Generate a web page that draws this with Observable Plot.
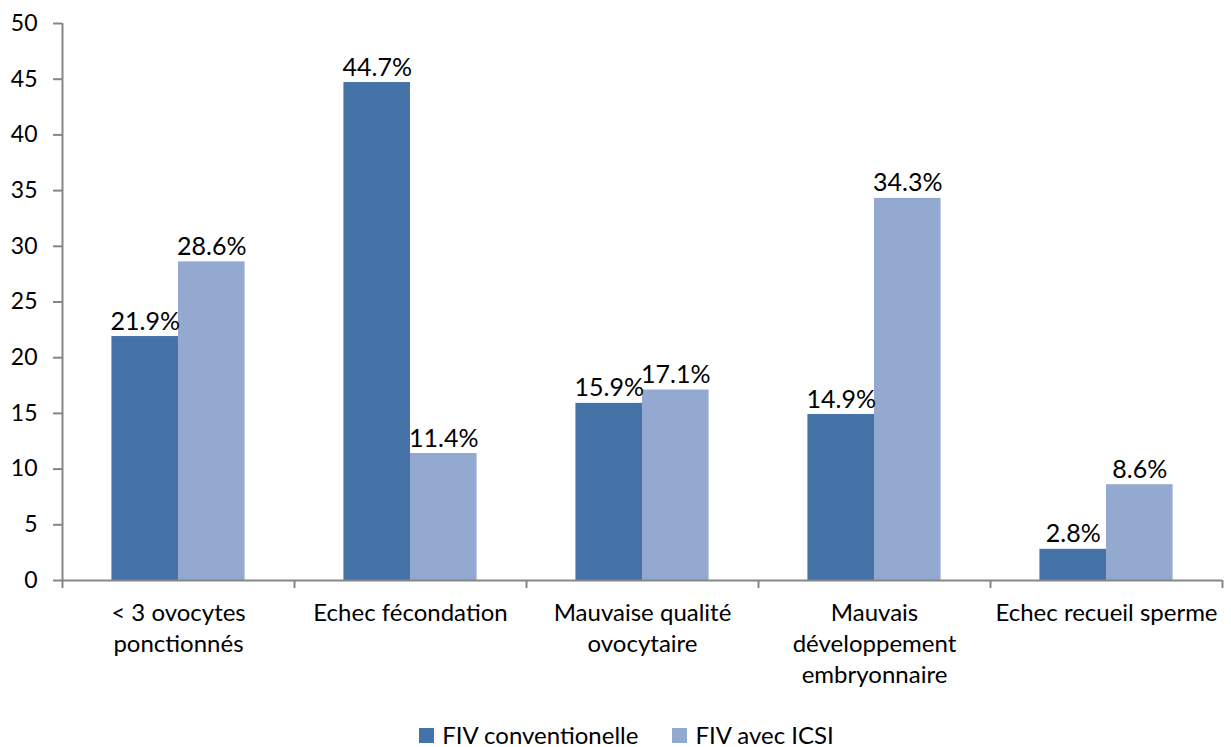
<!DOCTYPE html>
<html>
<head>
<meta charset="utf-8">
<script src="https://cdn.jsdelivr.net/npm/d3@7"></script>
<script src="https://cdn.jsdelivr.net/npm/@observablehq/plot@0.6"></script>
<style>
  html, body { margin: 0; padding: 0; background: #fff; }
  body { position: relative; width: 1231px; height: 747px; overflow: hidden; }
  #chart { width: 1231px; }
  .legend { position: absolute; left: 0; top: 724px; width: 1231px; display: flex; justify-content: center; align-items: center; gap: 34px; font-family: Lato, "Open Sans", sans-serif; font-size: 24px; line-height: 22px; height: 22px; color: #000; padding-left: 22px; box-sizing: border-box; }
  .legend span.item { display: flex; align-items: center; gap: 8px; }
  .legend i { display: inline-block; width: 15px; height: 15px; }
</style>
</head>
<body>
<div id="chart"></div>
<script>
const categories = ["c1", "c2", "c3", "c4", "c5"];
const categoryLabels = ["< 3 ovocytes\nponctionnés", "Echec fécondation", "Mauvaise qualité\novocytaire", "Mauvais\ndéveloppement\nembryonnaire", "Echec recueil sperme"];
const seriesNames = ["FIV conventionelle", "FIV avec ICSI"];
const fivConventionelle = [21.9, 44.7, 15.9, 14.9, 2.8];
const fivIcsi = [28.6, 11.4, 17.1, 34.3, 8.6];
const yTicks = [0, 5, 10, 15, 20, 25, 30, 35, 40, 45, 50];
const colors = ["#4573A7", "#94A9D0"];

const width = 1231, height = 705;
const marginLeft = 62, marginRight = 9, marginTop = 23, marginBottom = 125;
const step = (width - marginLeft - marginRight) / categories.length;
const outer = 0.213;
const axisColor = "#868686";
const font = "Lato, 'Open Sans', sans-serif";

const dataA = categories.map((c, i) => ({cat: c, value: fivConventionelle[i]}));
const dataB = categories.map((c, i) => ({cat: c, value: fivIcsi[i]}));
const labelOf = new Map(categories.map((c, i) => [c, categoryLabels[i]]));
const lastCat = [categories[categories.length - 1]];

const chart = Plot.plot({
  width, height, marginLeft, marginRight, marginTop, marginBottom,
  style: {fontFamily: font, fontSize: "24px", color: "#000", background: "#fff"},
  x: {type: "band", domain: categories, padding: 0, axis: null},
  y: {domain: [0, 50], axis: null},
  marks: [
    Plot.barY(dataA, {x: "cat", y: "value", fill: colors[0], insetLeft: step * outer, insetRight: step * 0.5}),
    Plot.barY(dataB, {x: "cat", y: "value", fill: colors[1], insetLeft: step * 0.5, insetRight: step * outer}),
    Plot.text(dataA, {x: "cat", y: "value", text: d => d.value.toFixed(1) + "%", dx: -step * (0.5 - outer) / 2, dy: -7, lineAnchor: "bottom", fontSize: 25, fill: "#000"}),
    Plot.text(dataB, {x: "cat", y: "value", text: d => d.value.toFixed(1) + "%", dx: step * (0.5 - outer) / 2, dy: -7, lineAnchor: "bottom", fontSize: 25, fill: "#000"}),
    Plot.ruleY([0], {stroke: axisColor, strokeWidth: 2}),
    Plot.ruleX([categories[0]], {x: d => d, y1: 0, y2: 50, dx: -step / 2, stroke: axisColor, strokeWidth: 2}),
    Plot.ruleX(categories, {x: d => d, y1: 0, y2: 0, insetBottom: -8, dx: -step / 2, stroke: axisColor, strokeWidth: 2}),
    Plot.ruleX(lastCat, {x: d => d, y1: 0, y2: 0, insetBottom: -8, dx: step / 2, stroke: axisColor, strokeWidth: 2}),
    Plot.axisY({ticks: yTicks, tickSize: 9, tickPadding: 16, stroke: axisColor, strokeWidth: 2, fontSize: 23, fill: "#000", label: null}),
    Plot.axisX({tickSize: 0, tickPadding: 19, tickFormat: d => labelOf.get(d), fontSize: 24, lineHeight: 1.29, fill: "#000", label: null})
  ]
});
document.getElementById("chart").appendChild(chart);

const legend = document.createElement("div");
legend.className = "legend";
seriesNames.forEach((name, i) => {
  const item = document.createElement("span");
  item.className = "item";
  const sw = document.createElement("i");
  sw.style.background = colors[i];
  item.appendChild(sw);
  item.appendChild(document.createTextNode(name));
  legend.appendChild(item);
});
document.body.appendChild(legend);
</script>
</body>
</html>
